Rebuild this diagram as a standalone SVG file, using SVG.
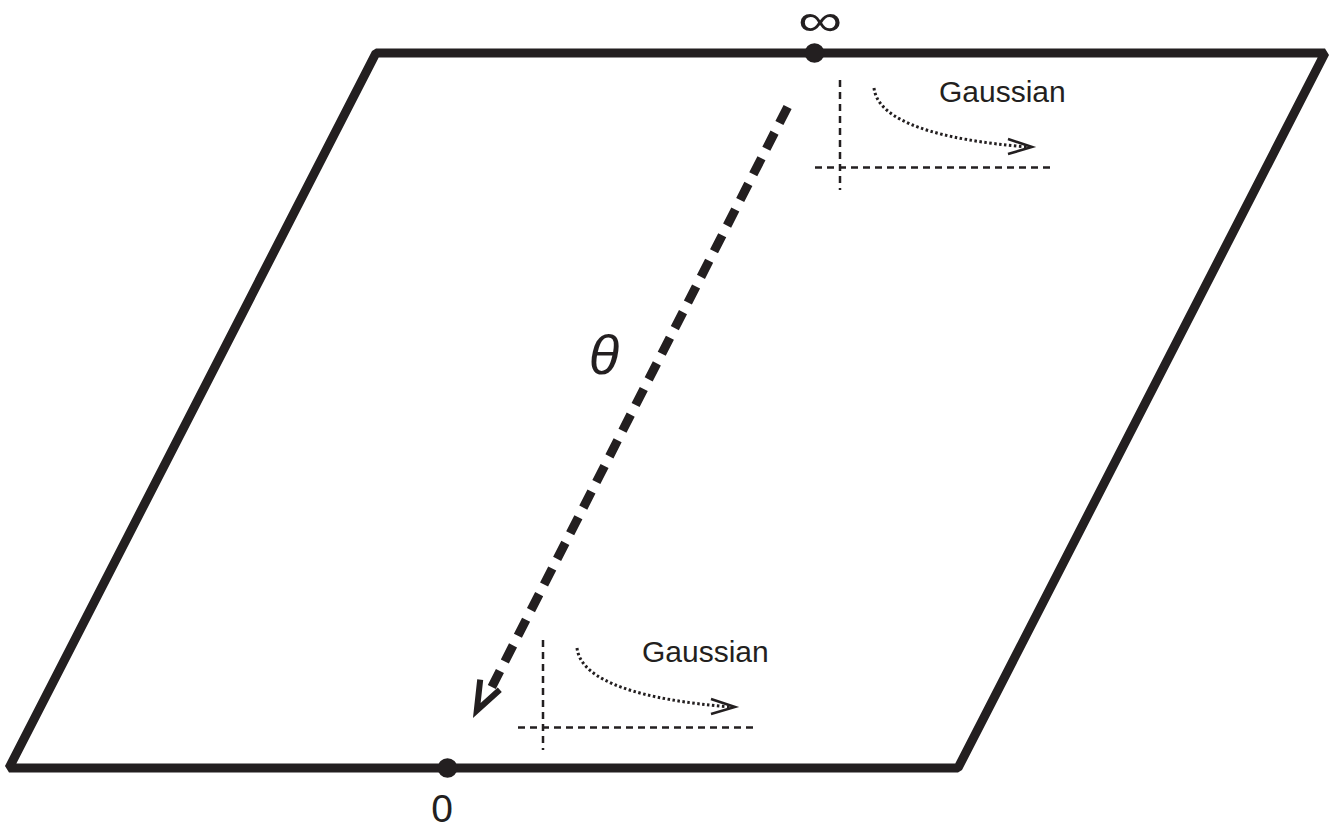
<svg xmlns="http://www.w3.org/2000/svg" width="1333" height="825" viewBox="0 0 1333 825">
<style>
.frame{fill:none;stroke:#231f20;stroke-width:9;stroke-linejoin:bevel}
.axis{fill:none;stroke:#231f20;stroke-width:2.5;stroke-dasharray:7 5}
.dots{fill:none;stroke:#231f20;stroke-width:3;stroke-dasharray:2.5 2.5}
.head{fill:none;stroke:#231f20;stroke-width:2.5;stroke-linejoin:miter}
.big{fill:none;stroke:#231f20;stroke-width:9;stroke-dasharray:18 10.78}
.bighead{fill:none;stroke:#231f20;stroke-width:6;stroke-linejoin:miter}
.lbl{font-family:"Liberation Sans",Arial,sans-serif;fill:#231f20}
.pt{fill:#231f20}
</style>
<rect width="1333" height="825" fill="#ffffff"/>
<g id="plane">
<polygon class="frame" points="376,53 1325,53 958,768 9,768"/>
</g>
<g id="node-infinity">
<circle class="pt" cx="814.5" cy="53" r="9.8"/>
<text class="lbl" transform="translate(820,36) scale(1.35,1)" font-size="46" text-anchor="middle">∞</text>
</g>
<g id="node-zero">
<circle class="pt" cx="447.5" cy="768" r="9.8"/>
<text class="lbl" x="442" y="822" font-size="39" text-anchor="middle">0</text>
</g>
<g id="node-gaussian-top">
<path class="axis" d="M840,80 V190 M815,167.5 H1052"/>
<path class="dots" d="M874,88 C878,122 940,140 1028,147"/>
<polyline class="head" points="1008,139 1032,147 1008,154"/>
<text class="lbl" x="939" y="102" font-size="30">Gaussian</text>
</g>
<g id="node-gaussian-bottom">
<path class="axis" d="M543,640 V750 M518,727.5 H755"/>
<path class="dots" d="M577,648 C581,682 643,700 731,707"/>
<polyline class="head" points="711,699 735,707 711,714"/>
<text class="lbl" x="642" y="662" font-size="30">Gaussian</text>
</g>
<g id="connectors">
<path class="big" d="M787.6,107 L491.8,687"/>
<polyline class="bighead" points="480.2,679.7 476.8,710.5 499.8,689.7"/>
<text class="lbl" x="604" y="374" font-size="56" font-style="italic" text-anchor="middle">θ</text>
</g>
</svg>
